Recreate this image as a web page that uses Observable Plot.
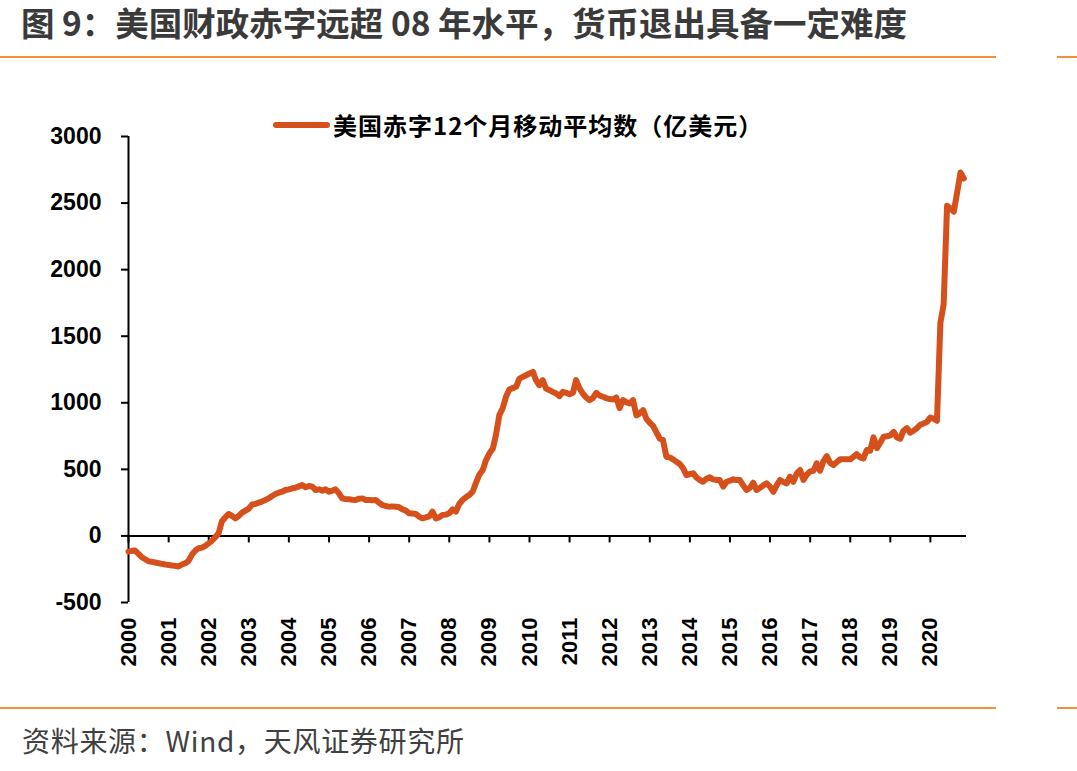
<!DOCTYPE html>
<html>
<head>
<meta charset="utf-8">
<script src="https://cdn.jsdelivr.net/npm/d3@7"></script>
<script src="https://cdn.jsdelivr.net/npm/@observablehq/plot@0.6"></script>
<style>
  body { margin: 0; background: #fff; }
  #page { position: relative; width: 1077px; height: 771px; overflow: hidden; background: #fff; }
  #title { position: absolute; left: 21px; top: 0px; width: 1000px; font: bold 33.5px/1.3 "Noto Sans CJK SC", sans-serif; color: #3a3a3a; white-space: nowrap; z-index: 2; }
  .rule { position: absolute; height: 2px; background: #F0913A; z-index: 2; }
  #legend { position: absolute; left: 273px; top: 109px; display: flex; align-items: center; font: bold 24px/1.3 "Noto Sans CJK SC", sans-serif; letter-spacing: 1px; color: #000; white-space: nowrap; z-index: 2; }
  #legend i { display: inline-block; width: 57px; height: 6px; border-radius: 3px; background: #D5501A; margin-right: 3px; }
  #chart { position: absolute; left: 0; top: 60px; z-index: 1; }
  #source { position: absolute; left: 22px; top: 722px; font: 28px/1.3 "Noto Sans CJK SC", sans-serif; letter-spacing: 0.7px; color: #404040; white-space: nowrap; z-index: 2; }
</style>
</head>
<body>
<div id="page">
  <div id="title"></div>
  <div class="rule" style="left:0;top:56px;width:996px"></div>
  <div class="rule" style="left:1057px;top:56px;width:20px"></div>
  <div id="legend"><i></i><span></span></div>
  <div id="chart"></div>
  <div class="rule" style="left:0;top:707px;width:996px"></div>
  <div class="rule" style="left:1057px;top:707px;width:20px"></div>
  <div id="source"></div>
</div>
<script>
// Texts
const titleText = "图 9：美国财政赤字远超 08 年水平，货币退出具备一定难度";
const seriesName = "美国赤字12个月移动平均数（亿美元）";
const sourceText = "资料来源：Wind，天风证券研究所";

// US deficit, 12-month moving average (100 million USD), monthly from Jan 2000
const firstYear = 2000;
const deficit12m = [
  -118, -112, -110, -135, -160, -175, -190, -195, -200, -205, -210, -215, // 2000
  -218, -222, -225, -230, -215, -205, -188, -140, -110, -93, -88, -75,    // 2001
  -55, -35, -10, 20, 110, 140, 165, 150, 132, 150, 175, 190,              // 2002
  205, 237, 240, 250, 258, 270, 282, 300, 315, 325, 332, 345,             // 2003
  350, 358, 362, 372, 382, 365, 375, 370, 345, 350, 340, 350,             // 2004
  332, 340, 350, 320, 282, 278, 275, 272, 270, 280, 282, 270,             // 2005
  270, 268, 270, 250, 232, 225, 220, 222, 220, 215, 200, 190,             // 2006
  170, 168, 165, 145, 132, 140, 145, 182, 132, 140, 157, 160,             // 2007
  170, 200, 182, 240, 270, 290, 307, 332, 400, 460, 495, 570,             // 2008
  620, 657, 757, 907, 957, 1045, 1100, 1110, 1120, 1182, 1195, 1207,      // 2009
  1220, 1232, 1170, 1132, 1170, 1107, 1095, 1082, 1070, 1050, 1082, 1075, // 2010
  1065, 1075, 1170, 1110, 1070, 1040, 1020, 1035, 1075, 1055, 1045, 1035, // 2011
  1028, 1025, 1040, 960, 1020, 1005, 995, 1020, 905, 920, 945, 880,       // 2012
  850, 825, 780, 732, 720, 595, 590, 575, 557, 540, 507, 457,             // 2013
  465, 470, 440, 420, 407, 430, 440, 425, 420, 420, 370, 407,             // 2014
  415, 425, 420, 420, 380, 345, 360, 400, 345, 360, 380, 395,             // 2015
  370, 332, 380, 420, 405, 395, 445, 407, 470, 495, 420, 460,             // 2016
  485, 490, 545, 490, 560, 600, 550, 532, 555, 575, 575, 575,             // 2017
  575, 595, 615, 590, 582, 645, 640, 740, 660, 700, 745, 748,             // 2018
  755, 782, 740, 730, 790, 810, 775, 790, 810, 835, 845, 857,             // 2019
  890, 880, 865, 1600, 1740, 2480, 2460, 2435, 2580, 2730, 2685          // 2020
];

// Axis ticks
const yearTicks = ["2000","2001","2002","2003","2004","2005","2006","2007","2008","2009","2010",
                   "2011","2012","2013","2014","2015","2016","2017","2018","2019","2020"];
const valueTicks = [-500, 0, 500, 1000, 1500, 2000, 2500, 3000];

const lineColor = "#D5501A";

// Header, legend, source
document.getElementById("title").textContent = titleText;
document.querySelector("#legend span").textContent = seriesName;
document.getElementById("source").textContent = sourceText;

// Monthly table
const data = deficit12m.map((v, i) => ({date: new Date(Date.UTC(firstYear, i, 1)), value: v}));
const yearDates = yearTicks.map(y => new Date(Date.UTC(+y, 0, 1)));
const xStart = yearDates[0];
const xEnd = new Date(Date.UTC(2020, 10, 25));

const chart = Plot.plot({
  width: 1077,
  height: 640,
  marginTop: 76,
  marginBottom: 98,
  marginLeft: 128,
  marginRight: 111,
  style: {fontFamily: "'Liberation Sans', Arial, sans-serif", background: "transparent", color: "black"},
  x: {type: "utc", domain: [xStart, xEnd]},
  y: {domain: [valueTicks[0], valueTicks[valueTicks.length - 1]]},
  marks: [
    Plot.axisY({ticks: valueTicks, tickSize: 7, tickPadding: 20, strokeWidth: 2,
                tickFormat: d => String(d), fontSize: 23, fontWeight: "bold", label: null}),
    Plot.ruleX([xStart], {stroke: "black", strokeWidth: 2}),
    Plot.ruleY([0], {stroke: "black", strokeWidth: 2}),
    Plot.ruleX(yearDates, {x: d => d, y1: 0, y2: 0, insetBottom: -7, stroke: "black", strokeWidth: 2}),
    Plot.axisX({ticks: yearDates, tickSize: 0, tickPadding: 15, tickRotate: -90,
                tickFormat: d3.utcFormat("%Y"), fontSize: 22, fontWeight: "bold", label: null}),
    Plot.lineY(data, {x: "date", y: "value", stroke: lineColor, strokeWidth: 6,
                      strokeLinejoin: "round", strokeLinecap: "round"})
  ]
});
document.getElementById("chart").appendChild(chart);
</script>
</body>
</html>
